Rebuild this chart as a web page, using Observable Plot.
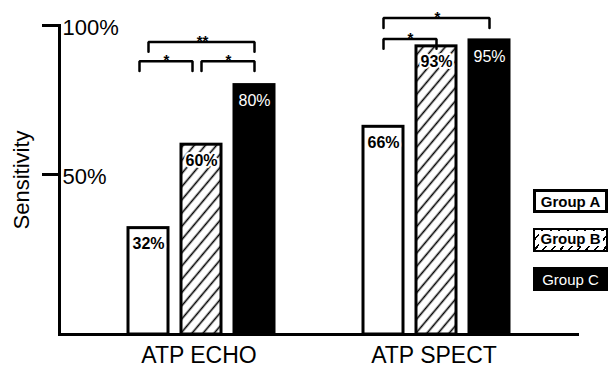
<!DOCTYPE html>
<html><head><meta charset="utf-8">
<script src="https://cdn.jsdelivr.net/npm/d3@7"></script>
<script src="https://cdn.jsdelivr.net/npm/@observablehq/plot@0.6"></script>
<style>
html,body{margin:0;padding:0;background:#fff;}
#chart{position:relative;width:610px;height:367px;font-family:"Liberation Sans",Arial,Helvetica,sans-serif;}
#legend{position:absolute;left:533px;top:189px;display:flex;flex-direction:column;gap:15px;}
.key{box-sizing:border-box;width:75px;height:24px;display:flex;align-items:center;justify-content:center;font-size:15px;line-height:15px;}
.key.a{border:3px solid #000;background:#fff;font-weight:bold;color:#000;}
.key.b{border:2px solid #000;background:repeating-linear-gradient(130deg,#fff 0 5px,#000 5px 6.6px);font-weight:bold;color:#000;align-items:flex-start;padding-top:1px;}
.key.b span{background:#fff;padding:0 2px;}
.key.c{background:#000;color:#fff;font-weight:normal;}
</style>
</head><body>
<div id="chart"></div>
<script>
const tests = ["ATP ECHO", "ATP SPECT"];
const groups = ["Group A", "Group B", "Group C"];
const echoValues = [32, 60, 80];
const spectValues = [66, 93, 95];
const yTicks = [50, 100];
const yTitle = "Sensitivity";
const bracketTests = ["ATP ECHO", "ATP ECHO", "ATP ECHO", "ATP SPECT", "ATP SPECT"];
const bracketFrom = ["Group A", "Group B", "Group A", "Group A", "Group A"];
const bracketTo = ["Group B", "Group C", "Group C", "Group B", "Group C"];
const bracketLevels = [88, 88, 94.5, 95.5, 102.5];
const bracketStars = ["*", "*", "**", "*", "*"];

const bars = [
  ...groups.map((g, i) => ({test: tests[0], group: g, value: echoValues[i]})),
  ...groups.map((g, i) => ({test: tests[1], group: g, value: spectValues[i]}))
];
const brackets = bracketTests.map((t, i) => ({id: i, test: t, from: bracketFrom[i], to: bracketTo[i], level: bracketLevels[i], stars: bracketStars[i],
  span: groups.indexOf(bracketTo[i]) - groups.indexOf(bracketFrom[i])}));
// a bracket whose right end meets another bracket's left end on the same level is nudged left to leave a gap
brackets.forEach(b => { b.shared = brackets.some(o => o !== b && o.test === b.test && o.level === b.level && o.from === b.to); });
const legDrop = 3.3;
const bracketPath = b => [
  {id: b.id, test: b.test, group: b.from, y: b.level - legDrop},
  {id: b.id, test: b.test, group: b.from, y: b.level},
  {id: b.id, test: b.test, group: b.to, y: b.level},
  {id: b.id, test: b.test, group: b.to, y: b.level - legDrop}
];

const yMin = -3.7;
const W = 610, H = 367, mL = 59, mR = 31, mT = 25, mB = 33;
const fxPadOuter = 0.106;
const xPadInner = 0.24, xPadOuter = 0.796;
const fxBand = Math.floor((W - mL - mR) / (2 + 2 * fxPadOuter));
const xStep = fxBand / (3 - xPadInner + 2 * xPadOuter);
const overhang = (W - mR) - (mL + tests.length * fxBand);
const gap = 9;

const bracketMarks = [false, true].flatMap(sh => {
  const sel = brackets.filter(b => b.shared === sh);
  const dx = sh ? -gap : 0;
  return [
    Plot.line(sel.flatMap(bracketPath), {fx: "test", x: "group", y: "y", z: "id", dx, strokeWidth: 2.5, strokeLinejoin: "miter"}),
    ...[1, 2].map(s => Plot.text(sel.filter(b => b.span === s), {fx: "test", x: "from", y: "level", text: "stars",
      dx: s * xStep / 2 + dx, dy: 4, lineAnchor: "bottom", fontSize: 15, fontWeight: "bold"}))
  ];
});

const svg = Plot.plot({
  width: W, height: H,
  marginLeft: mL, marginRight: mR, marginTop: mT, marginBottom: mB,
  style: {fontFamily: '"Liberation Sans", Arial, Helvetica, sans-serif', background: "white", color: "black"},
  fx: {domain: tests, paddingInner: 0, paddingOuter: fxPadOuter, align: 0},
  x: {domain: groups, axis: null, paddingInner: xPadInner, paddingOuter: xPadOuter, align: 0.773},
  y: {domain: [yMin, 100]},
  color: {domain: groups, range: ["white", "url(#hatch)", "black"]},
  marks: [
    Plot.barY(bars, {fx: "test", x: "group", y1: yMin, y2: "value", fill: "group", stroke: "black", strokeWidth: 3}),
    Plot.text(bars.filter(d => d.group !== "Group C"), {fx: "test", x: "group", y: "value", text: d => d.value + "%", dy: 16,
      fontSize: 16, fontWeight: "bold", fill: "black", stroke: "white", strokeWidth: 4, paintOrder: "stroke"}),
    Plot.text(bars.filter(d => d.group === "Group C"), {fx: "test", x: "group", y: "value", text: d => d.value + "%", dy: 16,
      fontSize: 16, fill: "white"}),
    ...bracketMarks,
    Plot.ruleY([yMin], {strokeWidth: 3, insetRight: -overhang}),
    Plot.frame({anchor: "left", facetAnchor: "left", strokeWidth: 3}),
    Plot.axisY({ticks: yTicks, tickSize: 17, strokeWidth: 3, tickFormat: () => "", fontSize: 22,
      label: yTitle, labelAnchor: "center", labelOffset: 46, labelArrow: "none"}),
    Plot.axisY({ticks: yTicks, tickSize: 0, tickPadding: 0, tickFormat: d => d + "%", textAnchor: "start", dx: 3, dy: 2,
      fontSize: 22, label: null}),
    Plot.axisFx({anchor: "bottom", tickSize: 0, tickPadding: 12, fontSize: 23, label: null, dx: 22})
  ]
});

const defs = d3.select(svg).insert("defs", ":first-child");
const pat = defs.append("pattern").attr("id", "hatch").attr("patternUnits", "userSpaceOnUse")
  .attr("width", 8.5).attr("height", 8.5).attr("patternTransform", "rotate(40)");
pat.append("rect").attr("width", 8.5).attr("height", 8.5).attr("fill", "white");
pat.append("line").attr("x1", 4.25).attr("y1", 0).attr("x2", 4.25).attr("y2", 8.5).attr("stroke", "black").attr("stroke-width", 1.6);

const chart = document.getElementById("chart");
chart.appendChild(svg);
const legend = document.createElement("div");
legend.id = "legend";
legend.innerHTML = `<div class="key a">${groups[0]}</div><div class="key b"><span>${groups[1]}</span></div><div class="key c">${groups[2]}</div>`;
chart.appendChild(legend);
</script>
</body></html>
